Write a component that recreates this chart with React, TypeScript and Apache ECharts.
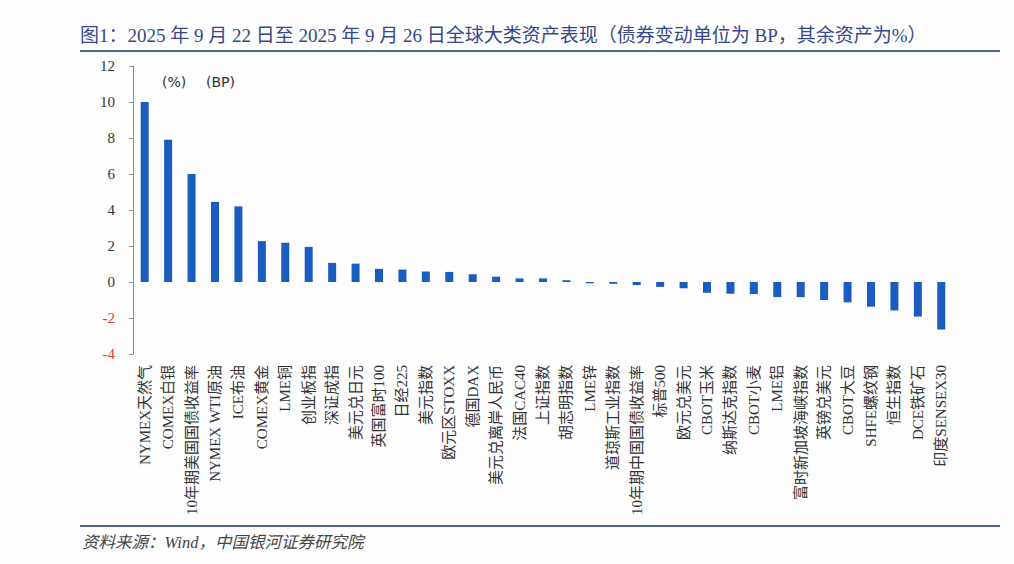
import React, { useEffect, useRef } from "react";
import * as echarts from "echarts";

const categories = [
  "NYMEX天然气", "COMEX白银", "10年期美国国债收益率", "NYMEX WTI原油", "ICE布油",
  "COMEX黄金", "LME铜", "创业板指", "深证成指", "美元兑日元",
  "英国富时100", "日经225", "美元指数", "欧元区STOXX", "德国DAX",
  "美元兑离岸人民币", "法国CAC40", "上证指数", "胡志明指数", "LME锌",
  "道琼斯工业指数", "10年期中国国债收益率", "标普500", "欧元兑美元", "CBOT玉米",
  "纳斯达克指数", "CBOT小麦", "LME铝", "富时新加坡海峡指数", "英镑兑美元",
  "CBOT大豆", "SHFE螺纹钢", "恒生指数", "DCE铁矿石", "印度SENSEX30",
];

const values = [
  10.0, 7.9, 6.0, 4.45, 4.2,
  2.27, 2.18, 1.95, 1.06, 1.02,
  0.73, 0.69, 0.58, 0.56, 0.43,
  0.3, 0.2, 0.2, 0.1, -0.07,
  -0.1, -0.17, -0.27, -0.35, -0.6,
  -0.65, -0.67, -0.84, -0.84, -1.0,
  -1.13, -1.37, -1.58, -1.92, -2.64,
];

const yMin = -4;
const yMax = 12;
const yInterval = 2;

const titleText = "图1：2025 年 9 月 22 日至 2025 年 9 月 26 日全球大类资产表现（债券变动单位为 BP，其余资产为%）";
const sourceText = "资料来源：Wind，中国银河证券研究院";
const unitLabels = ["(%)", "(BP)"];

const SERIF = "'Liberation Serif', 'Times New Roman', 'Noto Sans CJK SC', serif";

export default function App() {
  const ref = useRef<HTMLDivElement>(null);

  useEffect(() => {
    document.body.style.margin = "0";
    const chart = echarts.init(ref.current!, null, { renderer: "svg" });
    chart.setOption({
      animation: false,
      backgroundColor: "#fdfdfe",
      grid: { left: 133, right: 61, top: 66, bottom: 210, containLabel: false },
      xAxis: {
        type: "category",
        data: categories,
        axisLine: { show: false },
        axisTick: { show: false },
        position: "bottom",
        axisLabel: {
          rotate: 90,
          interval: 0,
          margin: 11,
          fontFamily: SERIF,
          fontSize: 15,
          color: "#333",
        },
      },
      yAxis: {
        type: "value",
        min: yMin,
        max: yMax,
        interval: yInterval,
        splitLine: { show: false },
        axisLine: { show: true, lineStyle: { color: "#8a8a8a", width: 1 } },
        axisTick: { show: true, length: 4, lineStyle: { color: "#8a8a8a" } },
        axisLabel: {
          fontFamily: SERIF,
          fontSize: 15,
          margin: 18,
          color: (v: any) => (Number(v) < 0 ? "#d9413a" : "#333"),
        },
      },
      series: [
        {
          type: "bar",
          data: values,
          barWidth: 8,
          itemStyle: { color: "#1a5cbf" },
        },
      ],
      graphic: [
        {
          type: "text",
          left: 80,
          top: 26,
          style: { text: titleText, fontFamily: SERIF, fontSize: 19, fill: "#36488a" },
        },
        {
          type: "rect",
          shape: { x: 80, y: 50, width: 920, height: 2 },
          style: { fill: "#4d6a8c" },
        },
        {
          type: "rect",
          shape: { x: 80, y: 525, width: 920, height: 2 },
          style: { fill: "#4d6a8c" },
        },
        {
          type: "text",
          left: 82,
          top: 534,
          style: { text: sourceText, fontFamily: SERIF, fontSize: 16.5, fontStyle: "italic", fill: "#444" },
        },
        {
          type: "text",
          left: 162,
          top: 75,
          style: { text: unitLabels[0], fontFamily: "'DejaVu Sans', sans-serif", fontSize: 14, fill: "#333" },
        },
        {
          type: "text",
          left: 206,
          top: 75,
          style: { text: unitLabels[1], fontFamily: "'DejaVu Sans', sans-serif", fontSize: 14, fill: "#333" },
        },
      ],
    });
    return () => chart.dispose();
  }, []);

  return <div ref={ref} style={{ width: 1014, height: 564 }} />;
}
